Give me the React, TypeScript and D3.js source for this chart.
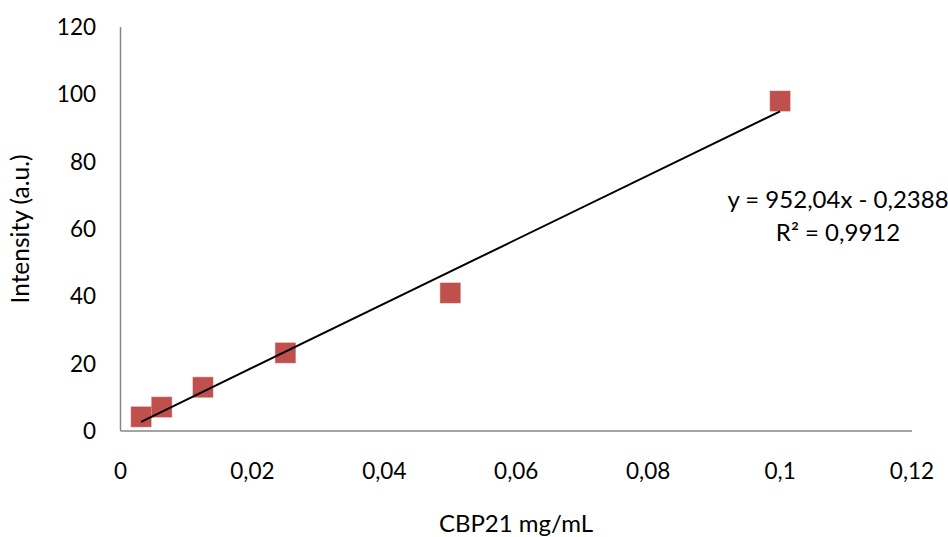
import React from "react";
import * as d3 from "d3";

// CBP21 concentration (mg/mL) vs intensity
const concentrations = [0.003125, 0.00625, 0.0125, 0.025, 0.05, 0.1];
const intensities = [4.2, 7.1, 13, 23.2, 41, 98];
const xTicks = [0, 0.02, 0.04, 0.06, 0.08, 0.1, 0.12];
const yTicks = [0, 20, 40, 60, 80, 100, 120];
const slope = 952.04;
const intercept = -0.2388;
const equationLines = ["y = 952,04x - 0,2388", "R² = 0,9912"];

const W = 948;
const H = 537;
const font = "Lato, 'Noto Sans', sans-serif";
const fs = 22.5;

export default function App() {
  const x = d3.scaleLinear().domain([0, 0.12]).range([120.5, 912]);
  const y = d3.scaleLinear().domain([0, 120]).range([431, 27]);
  const fmt = (v: number) => String(+v.toFixed(2)).replace(".", ",");

  const x0 = d3.min(concentrations)!;
  const x1 = d3.max(concentrations)!;
  const trend = d3
    .line<number>()
    .x((d) => x(d))
    .y((d) => y(slope * d + intercept))([x0, x1]);

  const marker = 20;

  return (
    <svg
      width={W}
      height={H}
      style={{ position: "absolute", left: 0, top: 0, background: "#fff" }}
      fontFamily={font}
    >
      {/* axes */}
      <line x1={x(0)} x2={x(0)} y1={y(120)} y2={y(0)} stroke="#868686" strokeWidth={1.5} />
      <line x1={x(0)} x2={x(0.12)} y1={y(0)} y2={y(0)} stroke="#868686" strokeWidth={1.5} />

      {yTicks.map((t) => (
        <text key={t} x={96} y={y(t)} dy="0.35em" textAnchor="end" fontSize={fs} fill="#000">
          {t}
        </text>
      ))}
      {xTicks.map((t) => (
        <text key={t} x={x(t)} y={471} dy="0.35em" textAnchor="middle" fontSize={fs} fill="#000">
          {fmt(t)}
        </text>
      ))}

      <text x={516} y={524} dy="0.35em" textAnchor="middle" fontSize={fs + 1.5} fill="#000">
        CBP21 mg/mL
      </text>
      <text
        transform={`translate(20,${(y(0) + y(120)) / 2}) rotate(-90)`}
        dy="0.35em"
        textAnchor="middle"
        fontSize={fs + 2}
        fill="#000"
      >
        Intensity (a.u.)
      </text>

      {concentrations.map((c, i) => (
        <rect
          key={i}
          x={x(c) - marker / 2}
          y={y(intensities[i]) - marker / 2}
          width={marker}
          height={marker}
          fill="#C0504D"
          stroke="#C0504D"
          strokeOpacity={0.5}
          strokeWidth={1}
        />
      ))}

      <path d={trend ?? ""} stroke="#000" strokeWidth={2} fill="none" />

      {equationLines.map((s, i) => (
        <text key={i} x={838} y={200 + i * 33} dy="0.35em" textAnchor="middle" fontSize={fs + 1.5} fill="#000">
          {s}
        </text>
      ))}
    </svg>
  );
}
